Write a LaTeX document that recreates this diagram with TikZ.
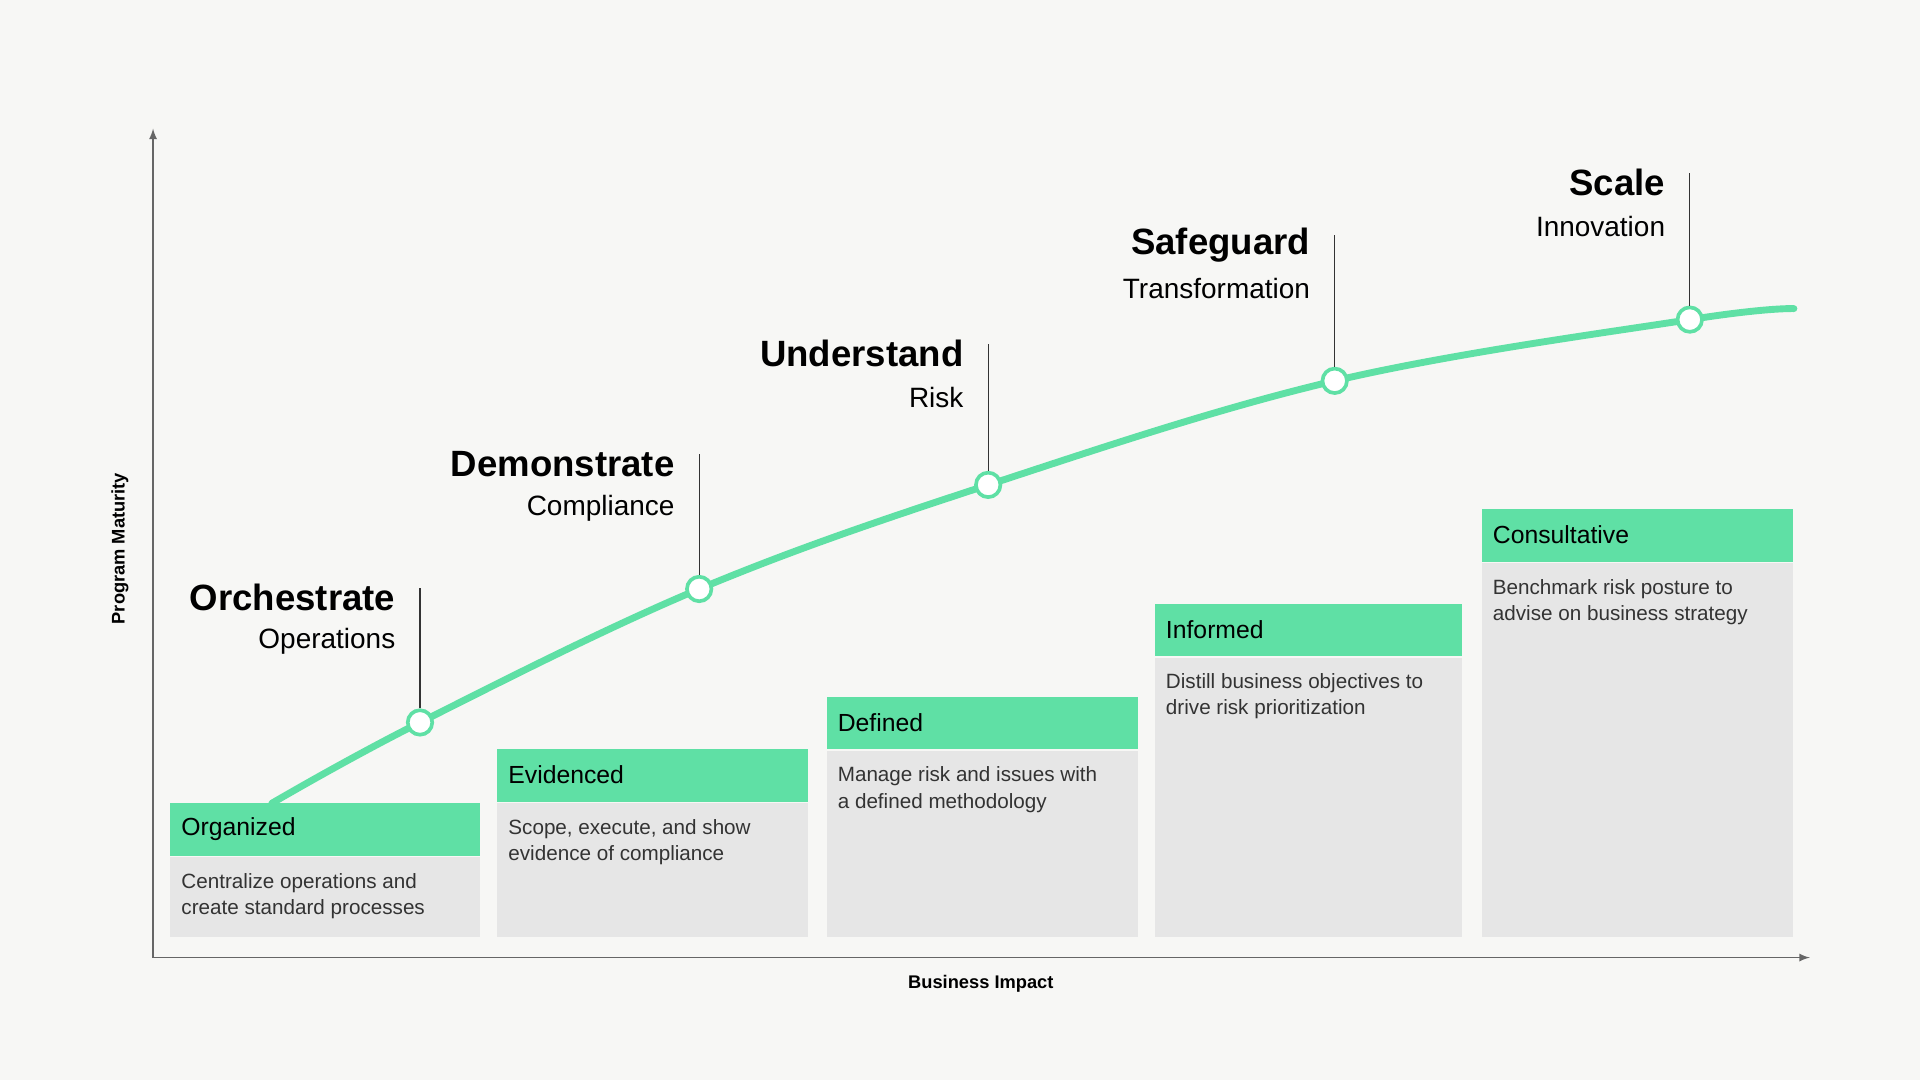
\documentclass[tikz,border=0pt]{standalone}
\usepackage{fontspec}
\setmainfont{Liberation Sans}
\begin{document}
\begin{tikzpicture}[x=0.02cm,y=-0.02cm,
  hdr/.style={fill=grn,draw=none},
  bod/.style={fill=boxg,draw=none},
  htxt/.style={anchor=west,font=\fontsize{11.5}{13}\selectfont,text=black},
  btxt/.style={anchor=north west,align=left,font=\fontsize{9.6}{12.2}\selectfont,text=txtg},
  ttl/.style={anchor=east,font=\fontsize{17}{20}\selectfont\bfseries},
  sub/.style={anchor=east,font=\fontsize{13}{16}\selectfont},
  dot/.style={circle,draw=grn,line width=1.7pt,fill=white,minimum size=0.4cm,inner sep=0pt},
  stem/.style={draw=black!80,line width=0.6pt},
  axis/.style={draw=axg,line width=0.7pt,-latex}]
\definecolor{grn}{HTML}{5FE0A5}
\definecolor{boxg}{HTML}{E6E6E6}
\definecolor{bg}{HTML}{F7F7F5}
\definecolor{axg}{HTML}{666666}
\definecolor{txtg}{HTML}{333333}
\fill[bg] (0,0) rectangle (1568,882);
\useasboundingbox (0,0) rectangle (1568,882);
\coordinate (o) at (125,782);
\coordinate (ytop) at (125,105);
\coordinate (xend) at (1478,782);
\draw[axis] (o) -- (ytop);
\draw[axis] (o) -- (xend);
\node[rotate=90,font=\fontsize{8.5}{10}\selectfont\bfseries] (yl) at (98,448) {Program Maturity};
\node[font=\fontsize{8.5}{10}\selectfont\bfseries] (xl) at (801,803) {Business Impact};
% boxes
\foreach \n/\xa/\xb/\yh/\h/\b in {
 b1/139/392/656/Organized/{Centralize operations and\\create standard processes},
 b2/406/660/612/Evidenced/{Scope, execute, and show\\evidence of compliance},
 b3/675/929/569/Defined/{Manage risk and issues with\\a defined methodology},
 b4/943/1194/493/Informed/{Distill business objectives to\\drive risk prioritization},
 b5/1210/1464/416/Consultative/{Benchmark risk posture to\\advise on business strategy}}{
 \fill[hdr] (\xa,\yh) rectangle (\xb,\yh+43);
 \fill[bod] (\xa,\yh+44) rectangle (\xb,765);
 \node[htxt] (\n h) at (\xa+3,\yh+21) {\h};
 \node[btxt] (\n t) at (\xa+3,\yh+51) {\b};
}
% curve
\draw[grn,line width=3.2pt,line cap=round] plot[smooth,tension=0.6] coordinates {(222,656) (343,590) (571,481) (807,396) (1090,311) (1380,261) (1465,252)};
\foreach \n/\x/\y/\top/\t/\s in {
 p1/343/590/480/Orchestrate/Operations,
 p2/571/481/371/Demonstrate/Compliance,
 p3/807/396/281/Understand/Risk,
 p4/1090/311/192/Safeguard/Transformation,
 p5/1380/261/141/Scale/Innovation}{
 \coordinate (\n top) at (\x,\top);
 \node[dot] (\n) at (\x,\y) {};
 \draw[stem] (\n.north) -- (\n top);
 \node[ttl] (\n t) at (\x-14,\top+8) {\t};
 \node[sub] (\n s) at (\x-14,\top+44) {\s};
}
\end{tikzpicture}
\end{document}
